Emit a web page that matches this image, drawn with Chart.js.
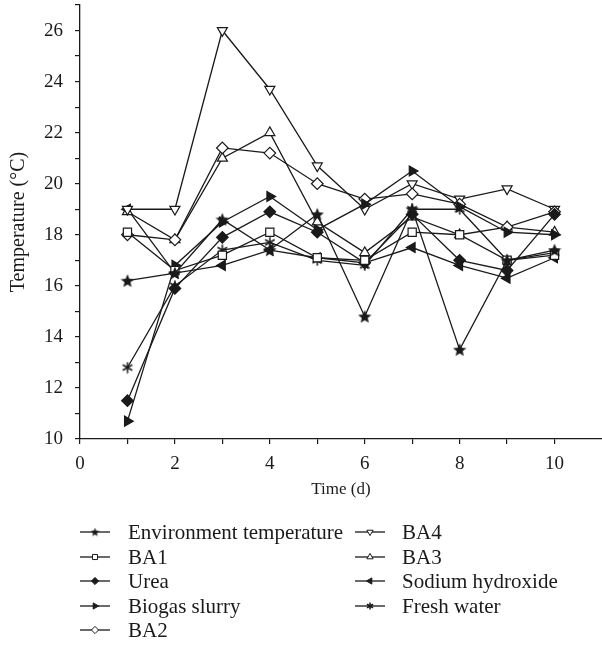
<!DOCTYPE html>
<html>
<head>
<meta charset="utf-8">
<script src="https://cdn.jsdelivr.net/npm/chart.js@4.4.1/dist/chart.umd.min.js"></script>
<style>
html,body{margin:0;padding:0;background:#fff;}
#wrap{width:602px;height:650px;position:relative;}
</style>
</head>
<body>
<div id="wrap"><canvas id="c" width="602" height="650"></canvas></div>
<script>
// ---- data ----
const days = [1, 2, 3, 4, 5, 6, 7, 8, 9, 10];
const envTemp = [16.2, 16.5, 18.6, 17.4, 18.8, 14.8, 19.0, 13.5, 17.0, 17.4];
const ba1 = [18.1, 16.6, 17.2, 18.1, 17.1, 17.0, 18.1, 18.0, 17.0, 17.2];
const urea = [11.5, 15.9, 17.9, 18.9, 18.1, 16.9, 18.8, 17.0, 16.6, 18.8];
const biogasSlurry = [10.7, 16.8, 18.5, 19.5, 18.2, 19.2, 20.5, 19.1, 18.1, 18.0];
const ba2 = [18.0, 17.8, 21.4, 21.2, 20.0, 19.4, 19.6, 19.2, 18.3, 18.9];
const ba4 = [19.0, 19.0, 26.0, 23.7, 20.7, 19.0, 20.0, 19.4, 19.8, 19.0];
const ba3 = [18.9, 17.8, 21.0, 22.0, 18.5, 17.3, 18.7, 18.0, 18.3, 18.1];
const sodiumHydroxide = [19.0, 16.5, 16.8, 17.4, 17.1, 16.9, 17.5, 16.8, 16.3, 17.1];
const freshWater = [12.8, 16.0, 17.4, 17.7, 17.0, 16.8, 19.0, 19.0, 17.0, 17.3];
const xTickLabels = ['0', '2', '4', '6', '8', '10'];
const yTickLabels = ['10', '12', '14', '16', '18', '20', '22', '24', '26'];

const INK = '#1a1a1a';
const FONT = '"Liberation Serif", "Times New Roman", serif';

function starCanvas(size) {
  const c = document.createElement('canvas');
  c.width = size; c.height = size;
  const g = c.getContext('2d');
  const cx = size / 2, cy = size / 2 + size * 0.04, R = size / 2, r = R * 0.45;
  g.beginPath();
  for (let i = 0; i < 10; i++) {
    const a = -Math.PI / 2 + i * Math.PI / 5;
    const rr = i % 2 ? r : R;
    g.lineTo(cx + rr * Math.cos(a), cy + rr * Math.sin(a));
  }
  g.closePath();
  g.fillStyle = INK; g.fill();
  return c;
}
function asteriskCanvas(size) {
  const c = document.createElement('canvas');
  c.width = size; c.height = size;
  const g = c.getContext('2d');
  const cx = size / 2, cy = size / 2, R = size / 2 - 0.5;
  g.strokeStyle = INK; g.lineWidth = 1.5;
  g.beginPath();
  for (let i = 0; i < 3; i++) {
    const a = Math.PI / 2 + i * Math.PI / 3;
    g.moveTo(cx + R * Math.cos(a), cy + R * Math.sin(a));
    g.lineTo(cx - R * Math.cos(a), cy - R * Math.sin(a));
  }
  g.stroke();
  return c;
}
const starBig = starCanvas(14), starSmall = starCanvas(9);
const astBig = asteriskCanvas(12), astSmall = asteriskCanvas(8);

function series(label, data, style, fill, rot, legendStyle) {
  return {
    label, data: days.map((d, i) => ({x: d, y: data[i]})),
    borderColor: INK, borderWidth: 1.3,
    pointStyle: style, pointRotation: rot || 0, pointRadius: 5.8, pointHoverRadius: 5.8,
    pointBackgroundColor: fill ? INK : '#fff', pointBorderColor: INK, pointBorderWidth: 1.2,
    fill: false, tension: 0, clip: false, legendStyle: legendStyle || style
  };
}

const datasets = [
  series('Environment temperature', envTemp, starBig, true, 0, starSmall),
  series('BA1', ba1, 'rect', false),
  series('Urea', urea, 'rectRot', true),
  series('Biogas slurry', biogasSlurry, 'triangle', true, 90),
  series('BA2', ba2, 'rectRot', false),
  series('BA4', ba4, 'triangle', false, 180),
  series('BA3', ba3, 'triangle', false),
  series('Sodium hydroxide', sodiumHydroxide, 'triangle', true, 270),
  series('Fresh water', freshWater, astBig, true, 0, astSmall)
];

const legendPlugin = {
  id: 'paperLegend',
  afterDraw(chart) {
    const ctx = chart.ctx;
    const rowsY = [532, 557, 581, 606, 630];
    const cols = [{x0: 80, tx: 128}, {x0: 355, tx: 402}];
    const order = [[0, 0], [0, 1], [0, 2], [0, 3], [0, 4], [1, 0], [1, 1], [1, 2], [1, 3]];
    ctx.save();
    chart.data.datasets.forEach((ds, i) => {
      const [col, row] = order[i];
      const y = rowsY[row];
      const x0 = cols[col].x0;
      ctx.strokeStyle = INK; ctx.lineWidth = 1.3;
      ctx.beginPath(); ctx.moveTo(x0, y); ctx.lineTo(x0 + 30, y); ctx.stroke();
      ctx.fillStyle = ds.pointBackgroundColor; ctx.strokeStyle = INK; ctx.lineWidth = 1;
      Chart.helpers.drawPoint(ctx, {
        pointStyle: ds.legendStyle, rotation: ds.pointRotation, radius: 3.6, borderWidth: 1
      }, x0 + 15, y);
      ctx.fillStyle = INK;
      ctx.font = '21px ' + FONT;
      ctx.textBaseline = 'middle';
      ctx.textAlign = 'left';
      ctx.fillText(ds.label, cols[col].tx, y + 1);
    });
    ctx.restore();
  }
};

new Chart(document.getElementById('c'), {
  type: 'line',
  data: {datasets},
  plugins: [legendPlugin],
  options: {
    responsive: false, animation: false, maintainAspectRatio: false,
    layout: {autoPadding: false, padding: {top: 5, right: 0, bottom: 148, left: 0}},
    plugins: {legend: {display: false}, tooltip: {enabled: false}},
    scales: {
      x: {
        type: 'linear', min: 0, max: 11,
        afterFit: s => { s.height = 63; s.paddingRight = 0; s.paddingLeft = 0; },
        border: {display: true, color: INK, width: 1.3},
        grid: {
          drawOnChartArea: false, drawTicks: true, tickLength: 5, lineWidth: 1.2,
          color: c => (c.tick && c.tick.value > 10) ? 'rgba(0,0,0,0)' : INK
        },
        ticks: {
          stepSize: 1, color: INK, padding: 9, maxRotation: 0, autoSkip: false,
          font: {family: FONT, size: 19},
          callback: v => (v % 2 === 0 && v <= 10) ? xTickLabels[v / 2] : ''
        },
        title: {display: true, text: 'Time (d)', color: INK, font: {family: FONT, size: 17}, padding: {top: 4, bottom: 2}}
      },
      y: {
        type: 'linear', min: 10, max: 27,
        afterFit: s => { s.width = 80; s.paddingTop = 0; s.paddingBottom = 0; },
        border: {display: true, color: INK, width: 1.3},
        grid: {drawOnChartArea: false, drawTicks: true, tickLength: 5, color: INK, lineWidth: 1.2},
        ticks: {
          stepSize: 1, color: INK, padding: 12, autoSkip: false,
          font: {family: FONT, size: 19},
          callback: v => (v % 2 === 0 && v <= 26) ? yTickLabels[(v - 10) / 2] : ''
        },
        title: {display: true, text: 'Temperature (°C)', color: INK, font: {family: FONT, size: 20}, padding: {top: 7, bottom: 4}}
      }
    }
  }
});
</script>
</body>
</html>
